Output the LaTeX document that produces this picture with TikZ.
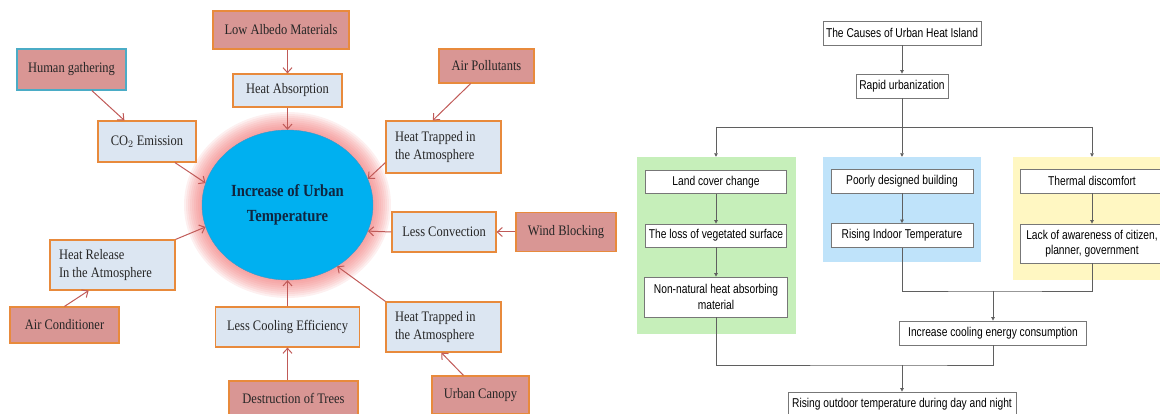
\documentclass[tikz,border=0pt]{standalone}
\usepackage{fontspec}
\setmainfont{Liberation Serif}[FakeStretch=0.86]
\newfontfamily\flowfont{Liberation Sans}[FakeStretch=0.8]
\usepackage{tikz}
\usetikzlibrary{arrows.meta,shapes.geometric}
\definecolor{causered}{RGB}{217,150,148}
\definecolor{effectblue}{RGB}{220,230,242}
\definecolor{edgeorange}{RGB}{232,138,60}
\definecolor{edgeteal}{RGB}{75,172,198}
\definecolor{arrowred}{RGB}{192,90,88}
\definecolor{coreblue}{RGB}{0,176,240}
\definecolor{coreedge}{RGB}{60,150,200}
\definecolor{coretext}{RGB}{16,37,63}
\definecolor{glowred}{RGB}{240,110,110}
\definecolor{landgreen}{RGB}{198,239,186}
\definecolor{buildblue}{RGB}{191,227,250}
\definecolor{comfyellow}{RGB}{255,247,194}
\definecolor{flowgrey}{RGB}{95,95,95}

\begin{document}
\begin{tikzpicture}[x=1pt,y=-1pt,
  box/.style={draw=edgeorange,line width=1.2pt,inner sep=0pt,text=black!85,
    font=\fontsize{14.5}{18.5}\selectfont},
  cause/.style={box,fill=causered},
  effect/.style={box,fill=effectblue},
  note/.style={effect,align=flush left,text width=#1,inner xsep=9pt},
  core/.style={ellipse,draw=coreedge,fill=coreblue,minimum width=171pt,minimum height=150pt,
    inner sep=0pt,align=center,text=coretext,font=\bfseries\fontsize{17}{25}\selectfont},
  hit/.style={draw=arrowred,line width=1pt,-{Straight Barb[length=5pt,width=9pt]}},
  panel/.style={inner sep=0pt},
  flowbox/.style={draw=flowgrey!85,fill=white,line width=0.8pt,inner sep=0pt,align=center,
    font=\flowfont\fontsize{12.8}{15.5}\selectfont},
  flow/.style={draw=flowgrey,line width=0.8pt},
  down/.style={flow,-{Triangle[length=3.5pt,width=3.5pt]}}]
\useasboundingbox (0,0) rectangle (1160,414);

% left: causes of rising temperature
\foreach \g in {18,16,...,2}
  \fill[glowred,opacity=0.1] (287.5,205) ellipse ({85.5+\g} and {75+\g});
\node[core] (core) at (287.5,205) {Increase of Urban\\Temperature};

\node[cause,minimum width=136pt,minimum height=38pt] (alb) at (281,30) {Low Albedo Materials};
\node[cause,draw=edgeteal,minimum width=109pt,minimum height=41pt] (hum) at (71.5,69.5) {Human gathering};
\node[cause,minimum width=95pt,minimum height=34pt] (pol) at (486.5,66) {Air Pollutants};
\node[cause,minimum width=100pt,minimum height=39pt] (wind) at (566,232) {Wind Blocking};
\node[cause,minimum width=109pt,minimum height=36pt] (ac) at (64.5,325) {Air Conditioner};
\node[cause,minimum width=129pt,minimum height=34pt] (trees) at (293.5,398) {Destruction of Trees};
\node[cause,minimum width=97pt,minimum height=38pt] (can) at (480.5,395) {Urban Canopy};

\node[effect,minimum width=109pt,minimum height=33pt] (abs) at (287.5,90.5) {Heat Absorption};
\node[effect,minimum width=98pt,minimum height=41pt] (co2) at (147,141.5) {CO$_2$ Emission};
\node[note=97pt,minimum height=52pt] (trp1) at (443.5,147) {Heat Trapped in\\the Atmosphere};
\node[effect,minimum width=104pt,minimum height=40pt] (conv) at (444,232) {Less Convection};
\node[note=107pt,minimum height=50pt] (rel) at (112.5,265) {Heat Release\\In the Atmosphere};
\node[effect,minimum width=144pt,minimum height=40pt] (cool) at (287.5,327) {Less Cooling Efficiency};
\node[note=97pt,minimum height=50pt] (trp2) at (443.5,327) {Heat Trapped in\\the Atmosphere};

\draw[hit] (abs.north |- alb.south) -- (abs);
\draw[hit] (abs) -- (core);
\draw[hit] (hum.-46) -- (co2.137);
\draw[hit] (co2.-37) -- (core.165);
\draw[hit] (pol.228) -- (trp1.112);
\draw[hit] (trp1.195) -- (core.18);
\draw[hit] (wind) -- (conv);
\draw[hit] (conv.west) -- (core.-18);
\draw[hit] (rel.north east) -- (core.195);
\draw[hit] (ac.north) -- (rel.227);
\draw[hit] (cool.south |- trees.north) -- (cool);
\draw[hit] (cool) -- (core);
\draw[hit] (trp2.north west) -- (core.-51);
\draw[hit] (can.131) -- (trp2.-95);

% right: flow chart
\node[panel,fill=landgreen,minimum width=159pt,minimum height=177pt] (land) at (716,245.5) {};
\node[panel,fill=buildblue,minimum width=158pt,minimum height=105pt] (build) at (902,209.5) {};
\node[panel,fill=comfyellow,minimum width=158pt,minimum height=123pt] (comf) at (1092,218.5) {};

\node[flowbox,minimum width=158pt,minimum height=24pt] (uhi) at (902,33) {The Causes of Urban Heat Island};
\node[flowbox,minimum width=92pt,minimum height=24pt] (rapid) at (902,86) {Rapid urbanization};
\node[flowbox,minimum width=141pt,minimum height=23pt] (cover) at (716,182) {Land cover change};
\node[flowbox,minimum width=141pt,minimum height=23pt] (vege) at (716,235.5) {The loss of vegetated surface};
\node[flowbox,minimum width=143pt,minimum height=40pt] (absorb) at (716,297) {Non-natural heat absorbing\\material};
\node[flowbox,minimum width=142pt,minimum height=24pt] (poor) at (902,181) {Poorly designed building};
\node[flowbox,minimum width=142pt,minimum height=24pt] (indoor) at (902,235.5) {Rising Indoor Temperature};
\node[flowbox,minimum width=144pt,minimum height=24pt] (discomf) at (1092,181) {Thermal discomfort};
\node[flowbox,minimum width=144pt,minimum height=39pt] (aware) at (1092,243.5) {Lack of awareness of citizen,\\planner, government};
\node[flowbox,minimum width=187pt,minimum height=24pt] (energy) at (993,333) {Increase cooling energy consumption};
\node[flowbox,minimum width=228pt,minimum height=24pt] (outdoor) at (902,404) {Rising outdoor temperature during day and night};

\coordinate (fork) at (902,127);
\coordinate (merge) at (993,291);
\coordinate (join) at (902,365);
\draw[down] (uhi) -- (rapid);
\draw[flow] (rapid) -- (fork);
\draw[flow] (fork -| land.north) -- (fork -| comf.north);
\draw[down] (fork -| land.north) -- (land.north);
\draw[down] (fork) -- (build.north);
\draw[down] (fork -| comf.north) -- (comf.north);
\draw[down] (cover) -- (vege);
\draw[down] (vege) -- (absorb);
\draw[down] (poor) -- (indoor);
\draw[down] (discomf) -- (aware);
\draw[flow] (indoor.south) |- (merge) -| (aware.south);
\draw[down] (merge) -- (energy);
\draw[flow] (absorb.south) |- (join) -| (energy.south);
\draw[down] (join) -- (outdoor);
\end{tikzpicture}
\end{document}
